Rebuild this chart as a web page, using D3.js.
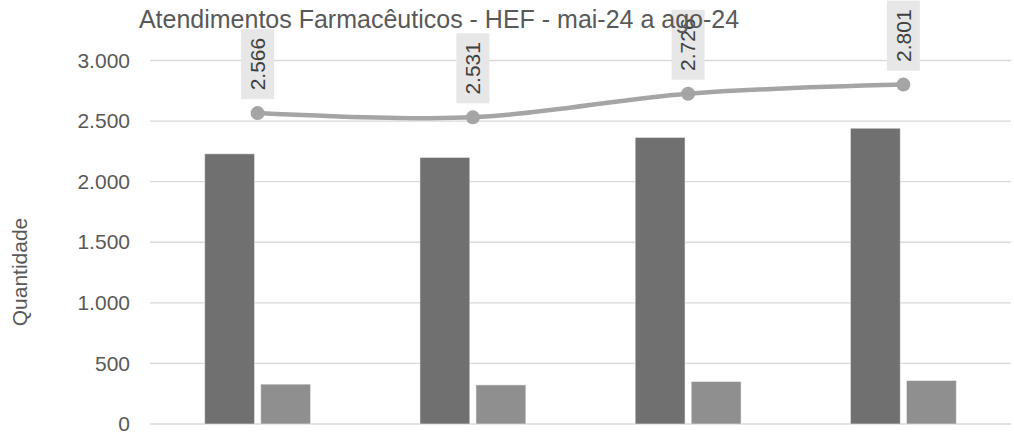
<!DOCTYPE html>
<html>
<head>
<meta charset="utf-8">
<script src="https://cdn.jsdelivr.net/npm/d3@7"></script>
<style>
  html, body { margin: 0; padding: 0; background: #fff; }
  svg { display: block; font-family: "Liberation Sans", Arial, sans-serif; }
</style>
</head>
<body>
<svg id="chart" width="1014" height="432"></svg>
<script>
const categories = ["mai-24", "jun-24", "jul-24", "ago-24"];
const seriesNames = ["Atendimentos", "Intervenções"];
const darkValues = [2230, 2200, 2365, 2441];
const lightValues = [329, 323, 351, 359];
const totalValues = [2566, 2531, 2726, 2801];
const yTicks = [0, 500, 1000, 1500, 2000, 2500, 3000];
const titleText = "Atendimentos Farmacêuticos - HEF - mai-24 a ago-24";
const yAxisTitle = "Quantidade";

const svg = d3.select("#chart");
const plotLeft = 150, plotRight = 1011, plotTop = 60.5, plotBottom = 424;

const x = d3.scaleBand().domain(categories).range([plotLeft, plotRight])
  .paddingInner(0.508).paddingOuter(0.254);
const x1 = d3.scaleBand().domain(seriesNames).range([0, x.bandwidth()]).paddingInner(0.11);
const y = d3.scaleLinear().domain([0, 3000]).range([plotBottom, plotTop]);

const fmt = v => d3.format(",")(v).replace(/,/g, ".");

// gridlines
svg.append("g").selectAll("line").data(yTicks).join("line")
  .attr("x1", plotLeft).attr("x2", plotRight)
  .attr("y1", d => y(d)).attr("y2", d => y(d))
  .attr("stroke", "#d9d9d9").attr("stroke-width", 1.4);

// y axis labels
const yAxis = d3.axisLeft(y).tickValues(yTicks).tickFormat(fmt).tickSize(0).tickPadding(0);
const ga = svg.append("g").attr("transform", `translate(130,0)`).call(yAxis);
ga.select(".domain").remove();
ga.selectAll("text").attr("font-size", 21).attr("fill", "#595959")
  .attr("font-family", "Liberation Sans, Arial, sans-serif");

// bars
const rows = categories.map((c, i) => ({ c, vals: [
  { s: seriesNames[0], v: darkValues[i], col: "#707070" },
  { s: seriesNames[1], v: lightValues[i], col: "#8f8f8f" }
]}));
const g = svg.append("g").selectAll("g").data(rows).join("g")
  .attr("transform", d => `translate(${x(d.c)},0)`);
g.selectAll("rect").data(d => d.vals).join("rect")
  .attr("x", d => x1(d.s)).attr("width", x1.bandwidth())
  .attr("y", d => y(d.v)).attr("height", d => y(0) - y(d.v))
  .attr("fill", d => d.col)
  .attr("stroke", "#ffffff").attr("stroke-opacity", 0.5).attr("stroke-width", 1);

// line
const cx = c => x(c) + x.bandwidth() / 2;
const line = d3.line().x((d, i) => cx(categories[i])).y(d => y(d)).curve(d3.curveCatmullRom.alpha(0.5));
svg.append("path").datum(totalValues).attr("d", line)
  .attr("fill", "none").attr("stroke", "#a5a5a5").attr("stroke-width", 4.5)
  .attr("stroke-linecap", "round");
svg.append("g").selectAll("circle").data(totalValues).join("circle")
  .attr("cx", (d, i) => cx(categories[i])).attr("cy", d => y(d)).attr("r", 7)
  .attr("fill", "#a5a5a5");

// data labels
const lab = svg.append("g").selectAll("g").data(totalValues).join("g")
  .attr("transform", (d, i) => `translate(${cx(categories[i])},${y(d) - 14}) rotate(-90)`);
lab.append("rect").attr("x", 0).attr("y", -16.5).attr("width", 70).attr("height", 33)
  .attr("fill", "#e7e7e7");
lab.append("text").attr("x", 35).attr("y", 0).attr("dy", "0.35em")
  .attr("text-anchor", "middle").attr("font-size", 21).attr("fill", "#404040")
  .text(d => fmt(d));

// title (drawn over the labels, as in the reference)
svg.append("text").attr("x", 439).attr("y", 28).attr("text-anchor", "middle")
  .attr("font-size", 25).attr("fill", "#595959").text(titleText);

// y axis title
svg.append("text").attr("transform", "translate(27,272) rotate(-90)")
  .attr("text-anchor", "middle").attr("font-size", 21).attr("fill", "#595959")
  .text(yAxisTitle);
</script>
</body>
</html>
